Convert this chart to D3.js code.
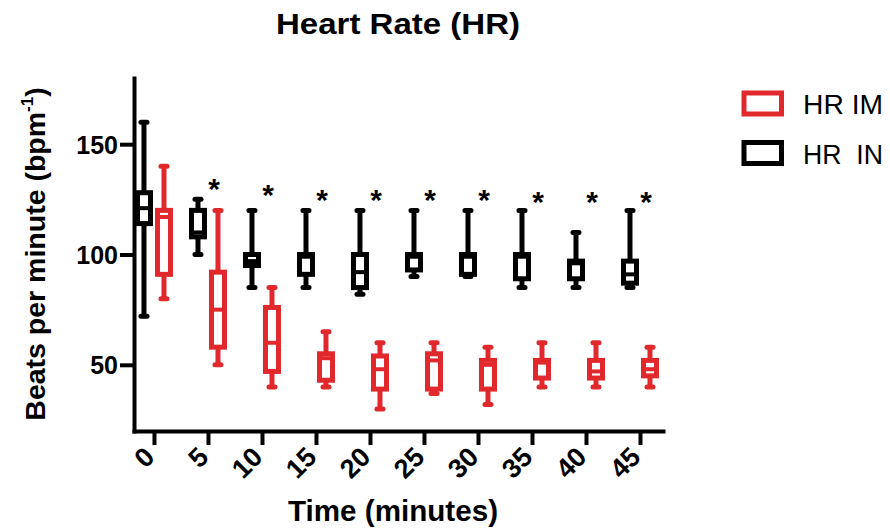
<!DOCTYPE html>
<html>
<head>
<meta charset="utf-8">
<script src="https://cdn.jsdelivr.net/npm/d3@7"></script>
<style>
    body { margin: 0; background: #fff; }
    text { font-family: 'Liberation Sans', Arial, sans-serif; }
</style>
</head>
<body>
<svg id="chart" width="890" height="529"></svg>
<script>
// Time points (minutes)
var times = [ 0, 5, 10, 15, 20, 25, 30, 35, 40, 45 ];

// HR IN (black) : min, q1, median, q3, max
var inMin = [ 72, 100, 85, 85, 82, 90, 90, 85, 85, 85 ],
    inQ1 = [ 114, 108, 95, 91, 85, 93, 91, 89, 89, 87 ],
    inMed = [ 121, 110, 97, 99, 92, 99, 99, 99, 96, 91 ],
    inQ3 = [ 128, 120, 100, 100, 100, 100, 100, 100, 97, 97 ],
    inMax = [ 160, 125, 120, 120, 120, 120, 120, 120, 110, 120 ];

// HR IM (red)
var imMin = [ 80, 50, 40, 40, 30, 37, 32, 40, 40, 40 ],
    imQ1 = [ 91, 58, 47, 43, 39, 39, 39, 44, 44, 45 ],
    imMed = [ 117, 75, 60, 53, 48, 52, 50, 51, 47, 48 ],
    imQ3 = [ 120, 92, 76, 55, 54, 55, 52, 52, 52, 52 ],
    imMax = [ 140, 120, 85, 65, 60, 60, 58, 60, 60, 58 ];

// significance markers (time, bpm level)
var sigTimes = [ 5, 10, 15, 20, 25, 30, 35, 40, 45 ],
    sigLevel = [ 133, 130, 128, 128, 128, 128, 127, 127, 127 ];

var yTicks = [ 50, 100, 150 ];

var RED = '#e0282d',
    BLACK = '#000';

var svg = d3.select( '#chart' );

var x = d3.scaleLinear().domain( [ -1.85, 47.13 ] ).range( [ 134, 663 ] ),
    y = d3.scaleLinear().domain( [ 20, 180 ] ).range( [ 431, 78 ] );

// Title
svg.append( 'text' )
    .attr( 'x', 398 ).attr( 'y', 34 )
    .attr( 'text-anchor', 'middle' )
    .attr( 'font-size', 29 ).attr( 'font-weight', 'bold' )
    .attr( 'textLength', 244 ).attr( 'lengthAdjust', 'spacingAndGlyphs' )
    .text( 'Heart Rate (HR)' );

// Axes
var xAxis = svg.append( 'g' )
    .attr( 'transform', 'translate(0,' + y( 20 ) + ')' )
    .call( d3.axisBottom( x ).tickValues( times ).tickSize( 14 ).tickSizeOuter( 0 ) );

var yAxis = svg.append( 'g' )
    .attr( 'transform', 'translate(' + x( -1.85 ) + ',0)' )
    .call( d3.axisLeft( y ).tickValues( yTicks ).tickSize( 14 ).tickSizeOuter( 0 ).tickPadding( 2 ) );

[ xAxis, yAxis ].forEach( function( ax ) {
    ax.select( '.domain' ).attr( 'stroke', BLACK ).attr( 'stroke-width', 4 ).attr( 'stroke-linecap', 'square' );
    ax.selectAll( '.tick line' ).attr( 'stroke', BLACK ).attr( 'stroke-width', 4 );
    ax.selectAll( '.tick text' )
        .attr( 'font-family', "'Liberation Sans', Arial, sans-serif" )
        .attr( 'font-weight', 'bold' ).attr( 'fill', BLACK );
} );

xAxis.selectAll( '.tick text' )
    .attr( 'font-size', 27 )
    .attr( 'x', 0 ).attr( 'y', 0 ).attr( 'dy', '0.35em' )
    .attr( 'text-anchor', 'end' )
    .attr( 'transform', 'translate(-5,21) rotate(-45)' );

yAxis.selectAll( '.tick text' )
    .attr( 'font-size', 25 )
    .attr( 'dy', '0.36em' );

// Box plots
function drawBoxes( lo, q1, med, q3, hi, color, offset ) {
    var g = svg.append( 'g' ),
        half = 6.5,
        cap = 3;

    times.forEach( function( t, i ) {
        var cx = x( t ) + offset;

        g.append( 'line' )
            .attr( 'x1', cx ).attr( 'x2', cx )
            .attr( 'y1', y( lo[ i ] ) ).attr( 'y2', y( hi[ i ] ) )
            .attr( 'stroke', color ).attr( 'stroke-width', 5 );

        [ lo[ i ], hi[ i ] ].forEach( function( v ) {
            g.append( 'line' )
                .attr( 'x1', cx - cap ).attr( 'x2', cx + cap )
                .attr( 'y1', y( v ) ).attr( 'y2', y( v ) )
                .attr( 'stroke', color ).attr( 'stroke-width', 5 )
                .attr( 'stroke-linecap', 'round' );
        } );

        g.append( 'rect' )
            .attr( 'x', cx - half ).attr( 'width', half * 2 )
            .attr( 'y', y( q3[ i ] ) ).attr( 'height', y( q1[ i ] ) - y( q3[ i ] ) )
            .attr( 'fill', '#fff' )
            .attr( 'stroke', color ).attr( 'stroke-width', 5 );

        g.append( 'line' )
            .attr( 'x1', cx - half ).attr( 'x2', cx + half )
            .attr( 'y1', y( med[ i ] ) ).attr( 'y2', y( med[ i ] ) )
            .attr( 'stroke', color ).attr( 'stroke-width', 4 );
    } );
}

drawBoxes( inMin, inQ1, inMed, inQ3, inMax, BLACK, -10 );
drawBoxes( imMin, imQ1, imMed, imQ3, imMax, RED, 10 );

// Significance asterisks
svg.append( 'g' ).selectAll( 'text' )
    .data( sigTimes )
    .enter().append( 'text' )
    .attr( 'x', function( d ) { return x( d ) + 6; } )
    .attr( 'y', function( d, i ) { return y( sigLevel[ i ] ) + 17; } )
    .attr( 'text-anchor', 'middle' )
    .attr( 'font-size', 30 ).attr( 'font-weight', 'bold' )
    .text( '*' );

// Axis titles
svg.append( 'text' )
    .attr( 'x', 393 ).attr( 'y', 521 )
    .attr( 'text-anchor', 'middle' )
    .attr( 'font-size', 30 ).attr( 'font-weight', 'bold' )
    .attr( 'textLength', 210 ).attr( 'lengthAdjust', 'spacingAndGlyphs' )
    .text( 'Time (minutes)' );

var yLabel = svg.append( 'text' )
    .attr( 'transform', 'translate(45,254) rotate(-90)' )
    .attr( 'text-anchor', 'middle' )
    .attr( 'font-size', 28.5 ).attr( 'font-weight', 'bold' );
yLabel.append( 'tspan' ).text( 'Beats per minute (bpm' );
yLabel.append( 'tspan' ).attr( 'font-size', 17 ).attr( 'dy', -12 ).text( '-1' );
yLabel.append( 'tspan' ).attr( 'dy', 12 ).text( ')' );

// Legend
var legend = [ { label: 'HR IM', color: RED }, { label: 'HR  IN', color: BLACK } ];

var lg = svg.append( 'g' ).selectAll( 'g' )
    .data( legend )
    .enter().append( 'g' )
    .attr( 'transform', function( d, i ) { return 'translate(744,' + ( 93 + i * 49.5 ) + ')'; } );

lg.append( 'rect' )
    .attr( 'width', 37.5 ).attr( 'height', 21 )
    .attr( 'fill', 'none' )
    .attr( 'stroke', function( d ) { return d.color; } )
    .attr( 'stroke-width', 5 );

lg.append( 'text' )
    .attr( 'x', 59 ).attr( 'y', 21 )
    .attr( 'font-size', 27 )
    .style( 'white-space', 'pre' )
    .attr( 'textLength', 80 ).attr( 'lengthAdjust', 'spacingAndGlyphs' )
    .text( function( d ) { return d.label; } );
</script>
</body>
</html>
